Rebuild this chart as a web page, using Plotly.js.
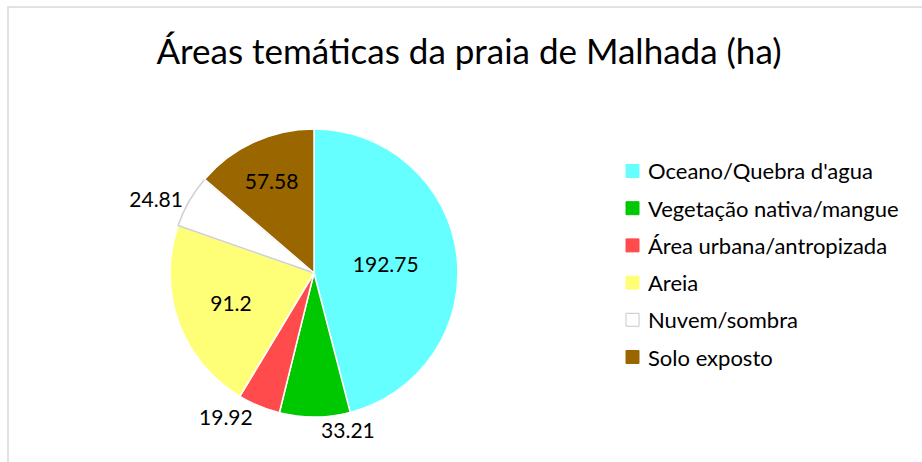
<!DOCTYPE html>
<html>
<head>
<meta charset="utf-8">
<script src="https://cdn.plot.ly/plotly-3.0.1.min.js"></script>
<style>html,body{margin:0;padding:0;background:#fff;}#chart{width:922px;height:462px;}</style>
</head>
<body>
<div id="chart"></div>
<script>
const categories = ["Oceano/Quebra d'agua", "Vegetação nativa/mangue", "Área urbana/antropizada", "Areia", "Nuvem/sombra", "Solo exposto"];
const areas = [192.75, 33.21, 19.92, 91.2, 24.81, 57.58];
const sliceColors = ["#66FFFF", "#00C800", "#FF4B4B", "#FFFF77", "#FFFFFF", "#996600"];
const labelPositions = ["inside", "outside", "outside", "inside", "outside", "inside"];
const chartTitle = "Áreas temáticas da praia de Malhada (ha)";

const W = 922, H = 462;
const FONT = "Lato, 'Open Sans', sans-serif";
const px = v => v / W;
const py = v => 1 - v / H;

const trace = {
  type: "pie",
  labels: categories,
  values: areas,
  sort: false,
  direction: "clockwise",
  rotation: 0,
  text: areas.map(v => String(v)),
  textinfo: "text",
  textposition: labelPositions,
  insidetextorientation: "horizontal",
  textfont: {family: FONT, size: 21, color: "#000"},
  marker: {
    colors: sliceColors,
    line: {color: ["#fff", "#fff", "#fff", "#fff", "#d0d0d0", "#fff"], width: 1.5}
  },
  domain: {x: [px(170), px(458)], y: [py(417), py(129)]},
  showlegend: false,
  hoverinfo: "label+value"
};

const shapes = [{
  type: "rect", xref: "paper", yref: "paper",
  x0: px(8), x1: 1.2, y0: -0.2, y1: py(7),
  line: {color: "#d9d9d9", width: 1.5}, fillcolor: "rgba(0,0,0,0)", layer: "below"
}];
const annotations = [];
const legX = 626, legY0 = 171, legStep = 37.2, box = 13;
categories.forEach((c, i) => {
  const cy = legY0 + i * legStep;
  shapes.push({
    type: "rect", xref: "paper", yref: "paper",
    x0: px(legX), x1: px(legX + box), y0: py(cy + box / 2), y1: py(cy - box / 2),
    fillcolor: sliceColors[i],
    line: {color: i === 4 ? "#c8c8c8" : sliceColors[i], width: 1}
  });
  annotations.push({
    xref: "paper", yref: "paper", x: px(legX + box + 7), y: py(cy),
    xanchor: "left", yanchor: "middle", showarrow: false,
    text: c, font: {family: FONT, size: 22, color: "#000"}
  });
});

const layout = {
  width: W, height: H,
  margin: {l: 0, r: 0, t: 0, b: 0},
  paper_bgcolor: "#fff",
  title: {text: chartTitle, x: px(469), xanchor: "center", y: py(52), yanchor: "middle",
          font: {family: FONT, size: 35, color: "#000"}},
  shapes: shapes,
  annotations: annotations,
  showlegend: false
};

Plotly.newPlot("chart", [trace], layout, {displayModeBar: false, staticPlot: true});
</script>
</body>
</html>
